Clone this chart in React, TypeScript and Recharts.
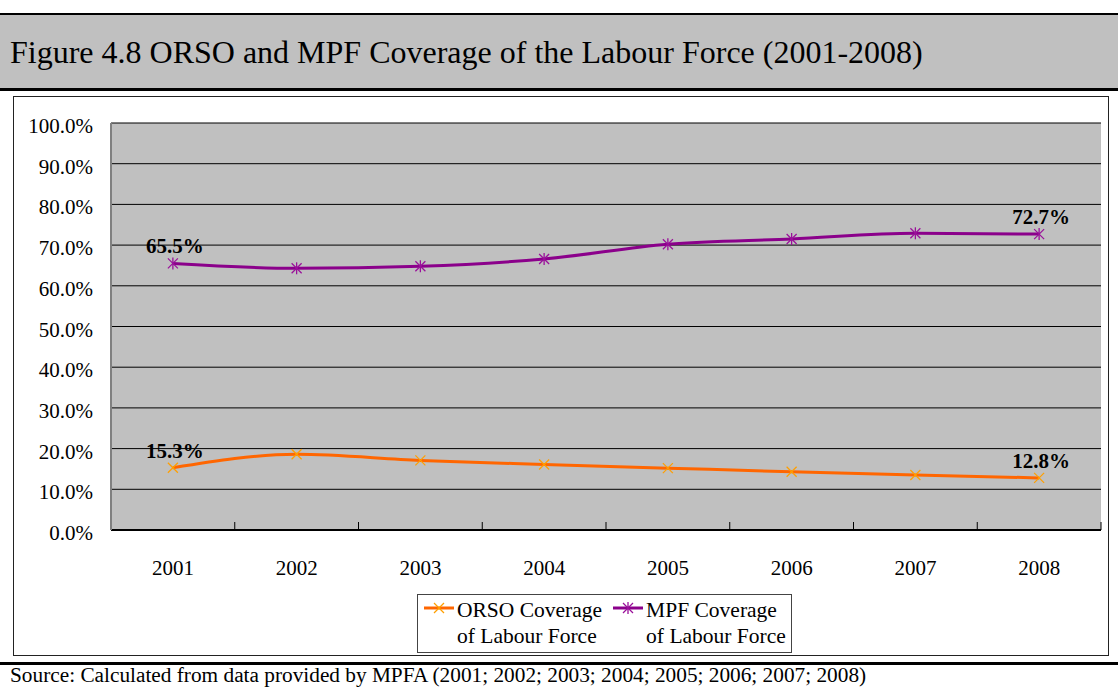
import React from 'react';
import { LineChart, Line, XAxis, YAxis, CartesianGrid, Legend, LabelList } from 'recharts';

const years = ['2001', '2002', '2003', '2004', '2005', '2006', '2007', '2008'];
const orsoValues = [15.3, 18.6, 17.1, 16.1, 15.2, 14.3, 13.5, 12.8];
const mpfValues = [65.5, 64.3, 64.8, 66.6, 70.2, 71.5, 72.9, 72.7];
const yTicks = [0, 10, 20, 30, 40, 50, 60, 70, 80, 90, 100];
const labelledIndexes = [0, 7];

const data = years.map((y, i) => ({ year: y, orso: orsoValues[i], mpf: mpfValues[i] }));

const FONT = '"Liberation Serif", "Times New Roman", serif';
const ORSO_LINE = '#FF6600';
const ORSO_MARK = '#FF9F00';
const MPF_LINE = '#8B008B';
const MPF_MARK = '#9A109A';

const CrossDot = (props: any) => {
  const { cx, cy } = props;
  if (cx == null || cy == null) return null;
  const s = 5;
  return (
    <g>
      <line x1={cx - s} y1={cy - s} x2={cx + s} y2={cy + s} stroke={ORSO_MARK} strokeWidth={1.3} />
      <line x1={cx - s} y1={cy + s} x2={cx + s} y2={cy - s} stroke={ORSO_MARK} strokeWidth={1.3} />
    </g>
  );
};

const StarDot = (props: any) => {
  const { cx, cy } = props;
  if (cx == null || cy == null) return null;
  const s = 5;
  return (
    <g>
      <line x1={cx - s} y1={cy - s} x2={cx + s} y2={cy + s} stroke={MPF_MARK} strokeWidth={1.3} />
      <line x1={cx - s} y1={cy + s} x2={cx + s} y2={cy - s} stroke={MPF_MARK} strokeWidth={1.3} />
      <line x1={cx} y1={cy - s - 1} x2={cx} y2={cy + s + 1} stroke={MPF_MARK} strokeWidth={1.3} />
    </g>
  );
};

const EndLabel = (props: any) => {
  const { x, y, value, index } = props;
  if (!labelledIndexes.includes(index)) return null;
  return (
    <text x={x + 2} y={y - 10} textAnchor="middle" fontFamily={FONT} fontSize={21} fontWeight="bold" fill="#000">
      {`${Number(value).toFixed(1)}%`}
    </text>
  );
};

const YTick = (props: any) => {
  const { x, y, payload } = props;
  return (
    <text x={x - 18} y={y + 3} textAnchor="end" dominantBaseline="central" fontFamily={FONT} fontSize={21} fill="#000">
      {`${Number(payload.value).toFixed(1)}%`}
    </text>
  );
};

const XTick = (props: any) => {
  const { x, y, payload, width, visibleTicksCount } = props;
  const half = payload && typeof payload.offset === 'number' && payload.offset > 0
    ? payload.offset
    : width / visibleTicksCount / 2;
  return (
    <g>
      <line x1={x + half} x2={x + half} y1={y - 8} y2={y} stroke="#000" strokeWidth={1} />
      <text x={x} y={y + 45} textAnchor="middle" fontFamily={FONT} fontSize={21} fill="#000">
        {payload.value}
      </text>
    </g>
  );
};

const LegendContent = () => {
  const items = [
    { name: ['ORSO Coverage', 'of Labour Force'], Dot: CrossDot, color: ORSO_LINE },
    { name: ['MPF Coverage', 'of Labour Force'], Dot: StarDot, color: MPF_LINE },
  ];
  return (
    <div
      style={{
        display: 'flex',
        background: '#fff',
        border: '1px solid #444',
        padding: '2px 5px 3px 5px',
        fontFamily: FONT,
        fontSize: 21.5,
        lineHeight: '26px',
        color: '#000',
      }}
    >
      {items.map((it, i) => (
        <div key={i} style={{ display: 'flex', alignItems: 'flex-start', marginRight: i === 0 ? 10 : 0 }}>
          <svg width={32} height={26} style={{ flex: 'none' }}>
            <line x1={1} x2={31} y1={11} y2={11} stroke={it.color} strokeWidth={3} />
            <it.Dot cx={16} cy={11} />
          </svg>
          <div style={{ marginLeft: 2 }}>
            <div>{it.name[0]}</div>
            <div>{it.name[1]}</div>
          </div>
        </div>
      ))}
    </div>
  );
};

export default function App() {
  return (
    <div style={{ position: 'absolute', left: 0, top: 0, width: 1118, height: 688, background: '#fff', overflow: 'hidden' }}>
      <div
        style={{
          position: 'absolute',
          left: 0,
          top: 13,
          width: 1118,
          height: 73,
          background: '#C0C0C0',
          borderTop: '2px solid #000',
          borderBottom: '3px solid #000',
        }}
      >
        <div style={{ position: 'absolute', left: 10, top: 19, fontFamily: FONT, fontSize: 32, lineHeight: '36px', color: '#000', whiteSpace: 'nowrap' }}>
          Figure 4.8 ORSO and MPF Coverage of the Labour Force (2001-2008)
        </div>
      </div>

      <div style={{ position: 'absolute', left: 13, top: 96, width: 1096, height: 560, border: '1.5px solid #222', boxSizing: 'border-box' }}>
        <LineChart width={1093} height={557} data={data} margin={{ top: 26, right: 6, left: 0, bottom: 64 }}>
          <CartesianGrid vertical={false} fill="#C0C0C0" stroke="#000" strokeWidth={1} />
          <XAxis
            dataKey="year"
            scale="band"
            height={60}
            tickSize={0}
            tickMargin={0}
            tickLine={false}
            tick={<XTick />}
            axisLine={{ stroke: '#000', strokeWidth: 2 }}
            interval={0}
          />
          <YAxis
            width={97}
            domain={[0, 100]}
            ticks={yTicks}
            tickSize={0}
            tickMargin={0}
            tickLine={false}
            tick={<YTick />}
            axisLine={{ stroke: '#808080', strokeWidth: 2 }}
            interval={0}
          />
          <Legend
            layout="horizontal"
            verticalAlign="middle"
            align="center"
            content={<LegendContent />}
            wrapperStyle={{ left: 403, top: 497, width: 'auto', margin: 0 }}
          />
          <Line
            type="monotone"
            dataKey="orso"
            name="ORSO Coverage of Labour Force"
            stroke={ORSO_LINE}
            strokeWidth={3}
            dot={<CrossDot />}
            activeDot={false}
            isAnimationActive={false}
          >
            <LabelList dataKey="orso" content={<EndLabel />} />
          </Line>
          <Line
            type="monotone"
            dataKey="mpf"
            name="MPF Coverage of Labour Force"
            stroke={MPF_LINE}
            strokeWidth={3}
            dot={<StarDot />}
            activeDot={false}
            isAnimationActive={false}
          >
            <LabelList dataKey="mpf" content={<EndLabel />} />
          </Line>
        </LineChart>
      </div>

      <div style={{ position: 'absolute', left: 0, top: 662, width: 1118, height: 0, borderTop: '3px solid #000' }} />
      <div style={{ position: 'absolute', left: 10, top: 664, fontFamily: FONT, fontSize: 21.3, lineHeight: '23px', color: '#000', whiteSpace: 'nowrap' }}>
        Source: Calculated from data provided by MPFA (2001; 2002; 2003; 2004; 2005; 2006; 2007; 2008)
      </div>
    </div>
  );
}
